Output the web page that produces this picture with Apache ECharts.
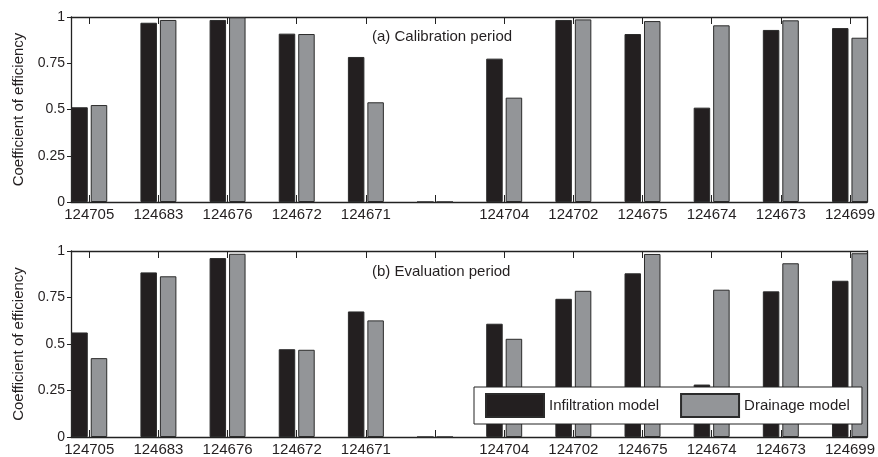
<!DOCTYPE html>
<html>
<head>
<meta charset="utf-8">
<script src="https://cdn.jsdelivr.net/npm/echarts@6/dist/echarts.min.js"></script>
<style>html,body{margin:0;padding:0;background:#fff;}#c{width:878px;height:457px;}</style>
</head>
<body>
<div id="c"></div>
<script>
// ---- data ----
var categories = ['124705','124683','124676','124672','124671','','124704','124702','124675','124674','124673','124699'];
var calibInfiltration = [0.512, 0.969, 0.984, 0.910, 0.784, 0, 0.775, 0.984, 0.908, 0.510, 0.930, 0.940];
var calibDrainage     = [0.524, 0.984, 0.998, 0.908, 0.539, 0, 0.564, 0.987, 0.978, 0.955, 0.982, 0.888];
var evalInfiltration  = [0.562, 0.885, 0.962, 0.472, 0.675, 0, 0.609, 0.743, 0.880, 0.282, 0.783, 0.840];
var evalDrainage      = [0.424, 0.864, 0.985, 0.469, 0.627, 0, 0.528, 0.786, 0.984, 0.792, 0.934, 0.988];
var yTicks = [0, 0.25, 0.5, 0.75, 1];
var seriesNames = ['Infiltration model', 'Drainage model'];
var panelTitles = ['(a) Calibration period', '(b) Evaluation period'];

var positions = categories.map(function(c, i){ return i + 1; });
function pairs(arr){ return arr.map(function(v, i){ return [i + 1, v]; }); }

var FONT = 'Liberation Sans, Arial, Helvetica, sans-serif';
var TXT = '#231f20';
var BLACK = '#231f20', GRAY = '#939598', EDGE = '#2b2b2b';
var TICK = '#222';

function xAxes(gi){
  return [{
    type: 'value', gridIndex: gi, position: 'bottom', min: 0.736, max: 12.245,
    axisLine: {show: true, onZero: false, lineStyle: {color: '#222', width: 1.3}},
    axisTick: {show: true, inside: true, length: 7, customValues: positions, lineStyle: {color: TICK, width: 1}},
    axisLabel: {show: true, customValues: positions, margin: 5,
      formatter: function(v){ return categories[Math.round(v) - 1] || ''; },
      fontFamily: FONT, fontSize: 15, color: TXT},
    splitLine: {show: false}
  }, {
    type: 'value', gridIndex: gi, position: 'top', min: 0.736, max: 12.245,
    axisLine: {show: true, onZero: false, lineStyle: {color: '#222', width: 1.3}},
    axisTick: {show: true, inside: true, length: 7, customValues: positions, lineStyle: {color: TICK, width: 1}},
    axisLabel: {show: false, customValues: positions},
    splitLine: {show: false}
  }];
}
function yAxes(gi){
  return [{
    type: 'value', gridIndex: gi, position: 'left', min: 0, max: 1, interval: 0.25,
    name: 'Coefficient of efficiency', nameLocation: 'middle', nameGap: 43,
    nameTextStyle: {fontFamily: FONT, fontSize: 15, color: TXT},
    axisLine: {show: true, onZero: false, lineStyle: {color: '#222', width: 1.3}},
    axisTick: {show: true, inside: false, length: 4, lineStyle: {color: TICK, width: 1}},
    axisLabel: {show: true, margin: 6, fontFamily: FONT, fontSize: 14, color: TXT},
    splitLine: {show: false}
  }, {
    type: 'value', gridIndex: gi, position: 'right', min: 0, max: 1,
    axisLine: {show: true, onZero: false, lineStyle: {color: '#222', width: 1.3}},
    axisTick: {show: false}, axisLabel: {show: false}, splitLine: {show: false}
  }];
}

function barSeries(name, arr, gi, color){
  return {
    type: 'bar', name: name, xAxisIndex: gi * 2, yAxisIndex: gi * 2,
    data: pairs(arr), barWidth: 16.5, barGap: '18%',
    itemStyle: {color: color, borderColor: EDGE, borderWidth: 1},
    emphasis: {disabled: true}, animation: false
  };
}

var chart = echarts.init(document.getElementById('c'), null, {renderer: 'canvas'});
chart.setOption({
  animation: false,
  backgroundColor: '#fff',
  title: [
    {text: panelTitles[0], left: 372, top: 29, textStyle: {fontFamily: FONT, fontSize: 15, fontWeight: 'normal', color: TXT}, padding: 0},
    {text: panelTitles[1], left: 372, top: 264, textStyle: {fontFamily: FONT, fontSize: 15, fontWeight: 'normal', color: TXT}, padding: 0}
  ],
  grid: [
    {left: 71, right: 10, top: 17, height: 185},
    {left: 71, right: 10, top: 251, height: 186}
  ],
  xAxis: xAxes(0).concat(xAxes(1)),
  yAxis: yAxes(0).concat(yAxes(1)),
  legend: {
    data: seriesNames, left: 474, top: 387, orient: 'horizontal',
    icon: 'rect', itemWidth: 58, itemHeight: 23, itemGap: 21,
    padding: [6, 12, 6, 11],
    borderColor: '#222', borderWidth: 1, backgroundColor: '#fff',
    textStyle: {fontFamily: FONT, fontSize: 15, color: TXT},
    selectedMode: false
  },
  series: [
    barSeries(seriesNames[0], calibInfiltration, 0, BLACK),
    barSeries(seriesNames[1], calibDrainage, 0, GRAY),
    barSeries(seriesNames[0], evalInfiltration, 1, BLACK),
    barSeries(seriesNames[1], evalDrainage, 1, GRAY)
  ]
});
</script>
</body>
</html>
